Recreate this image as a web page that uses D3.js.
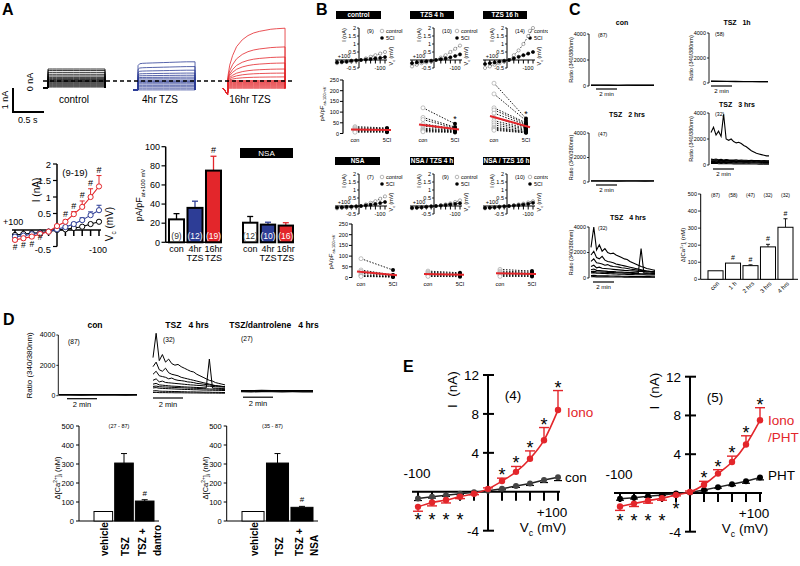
<!DOCTYPE html>
<html>
<head>
<meta charset="utf-8">
<script src="https://cdn.jsdelivr.net/npm/d3@7"></script>
<style>
body { margin: 0; background: #fff; }
svg { font-family: Arial, "Liberation Sans", sans-serif; }
text { white-space: pre; }
</style>
</head>
<body>
<div id="chart"></div>
<script>
// ---------------- data ----------------
// A: sweep amplitudes at end of the step (nA)
const sweepCtrl = [-0.25,-0.21,-0.17,-0.13,-0.09,-0.05,-0.02,0.02,0.06,0.1,0.15,0.21,0.28,0.36,0.44,0.5];
const sweep4h = [-0.37,-0.3,-0.24,-0.18,-0.12,-0.07,-0.02,0.03,0.09,0.16,0.24,0.33,0.45,0.6,0.8];
const sweep16h = [-0.3,-0.26,-0.22,-0.18,-0.14,-0.1,-0.06,-0.02,0.02,0.17,0.33,0.5,0.75,1.0,1.42,2.2];
// time course during the step (fraction of step, fraction of final amplitude)
const stepFrac = [0,0.03,0.08,0.15,0.25,0.35,0.45,0.55,0.65,0.75,0.85,1];
const riseCtrl = [1,1,1,1,1,1,1,1,1,1,1,1];
const rise4h = [0.8,0.9,0.92,0.93,0.94,0.95,0.96,0.97,0.98,0.99,1,1];
const rise16h = [0.1,0.3,0.48,0.65,0.78,0.86,0.91,0.94,0.96,0.98,0.99,1];

// A: I-V (nA) at Vc from +100 to -100 mV
const ivV = [100,80,60,40,20,0,-20,-40,-60,-80,-100];
const ivACtrl = [-0.15,-0.12,-0.1,-0.08,-0.05,0,0.02,0.06,0.1,0.18,0.25];
const ivACtrlErr = [0.03,0.03,0.02,0.02,0.01,0,0.01,0.02,0.02,0.03,0.04];
const ivA4h = [-0.2,-0.17,-0.13,-0.1,-0.05,0.02,0.09,0.18,0.3,0.45,0.6];
const ivA4hErr = [0.04,0.03,0.03,0.02,0.02,0,0.03,0.05,0.07,0.1,0.15];
const ivA16h = [-0.3,-0.25,-0.2,-0.12,-0.05,0.12,0.25,0.48,0.7,1.0,1.32];
const ivA16hErr = [0.05,0.05,0.04,0.03,0.02,0.02,0.05,0.08,0.18,0.25,0.33];
const ivASigUp = [-20,-40,-60,-80,-100];
const ivASigDown = [100,80,60,40];

// A: current density at +100 mV
const densLab1 = ["con","4hr","16hr"];
const densLab2 = ["","TZS","TZS"];
const densTZS = [24,36,75], densTZSErr = [6,7,15], densTZSN = [9,12,19];
const densNSA = [20.5,18.5,17.5], densNSAErr = [6.5,2.5,3], densNSAN = [12,10,16];

// B: mini I-V, control (open) and 5CI (filled)
const bTitles1 = ["control","TZS 4 h","TZS 16 h"];
const bTitles2 = ["NSA","NSA / TZS 4 h","NSA / TZS 16 h"];
const bN1 = [9,10,14], bN2 = [7,9,10];
const bCtrlOpen = [-0.2,-0.15,-0.12,-0.1,-0.05,0,0.1,0.2,0.3,0.4,0.5];
const bCtrlFill = [-0.15,-0.12,-0.1,-0.05,-0.02,0,0.03,0.06,0.1,0.13,0.18];
const b4hOpen = [-0.4,-0.3,-0.2,-0.15,-0.1,0,0.15,0.3,0.5,0.7,0.9];
const b4hFill = [-0.2,-0.15,-0.1,-0.08,-0.05,0,0.05,0.1,0.17,0.25,0.35];
const b16hOpen = [-0.5,-0.4,-0.3,-0.2,-0.1,0,0.3,0.6,1.0,1.5,2.0];
const b16hFill = [-0.25,-0.2,-0.15,-0.1,-0.05,0,0.1,0.2,0.3,0.4,0.5];
const bNSAOpen = [-0.15,-0.12,-0.1,-0.08,-0.04,0,0.1,0.2,0.3,0.45,0.6];
const bNSAFill = [-0.1,-0.08,-0.06,-0.04,-0.02,0,0.04,0.08,0.12,0.18,0.25];
const bN4hOpen = [-0.15,-0.12,-0.1,-0.06,-0.03,0,0.05,0.1,0.17,0.25,0.35];
const bN4hFill = [-0.12,-0.1,-0.08,-0.05,-0.02,0,0.03,0.06,0.1,0.13,0.17];
const bN16hOpen = [-0.15,-0.12,-0.1,-0.06,-0.03,0,0.05,0.1,0.15,0.22,0.3];
const bN16hFill = [-0.12,-0.1,-0.08,-0.05,-0.02,0,0.03,0.06,0.09,0.13,0.2];

// B: paired pA/pF, con -> 5CI, per cell
const pCtrlCon = [32,27,22,18,14,10,6], pCtrlSci = [26,22,20,16,13,9,6];
const p4hCon = [120,75,65,45,35,25,20,15,12,8], p4hSci = [45,30,25,22,18,15,12,10,8,5];
const p16hCon = [235,185,120,110,95,75,60,50,40,30,25,20,15], p16hSci = [70,60,50,45,40,30,25,20,15,10,8,5,3];
const pNSACon = [88,35,28,20,12,8,5], pNSASci = [35,12,10,8,5,3,2];
const pN4hCon = [30,25,20,16,12,8,5], pN4hSci = [22,18,14,12,10,7,4];
const pN16hCon = [38,30,25,20,15,10,5], pN16hSci = [30,25,20,15,12,8,5];

// C / D: fura-2 ratio traces (340/380), evenly sampled
const trCon = [[62,60,61,59,60,61,60,60],[55,56,54,55,56,55,54,55]];
const tr1h = [[150,140,135,128,122,118,112,110],[130,125,120,118,115,110,108,105]];
const tr2h = [[92,90,88,91,89,90,88,90],[80,82,80,79,81,80,79,80]];
const tr3h = [
  [2500,2900,2300,2600,2200,3900,2000,1900,2000,1800,1700,1750,1650,1500,1400,1250,1100,1000,900,850,800,750,700,700],
  [450,420,460,400,430,380,420,400,390,380,400,370,380,360,370,350,360,340,350,340,330,340,330,320],
  [380,360,390,350,370,340,360,350,340,350,330,340,330,320,330,320,310,320,310,300,310,300,300,290],
  [320,300,330,290,310,280,300,290,280,290,270,280,270,260,270,260,250,260,250,240,250,240,240,230],
  [260,280,250,270,240,260,250,240,250,230,240,230,230,220,230,220,210,220,210,210,200,210,200,200],
  [200,220,190,210,180,200,190,180,190,170,180,170,170,160,170,160,150,160,150,150,140,150,140,140],
  [120,110,130,100,120,100,110,100,100,90,100,90,90,90,80,90,80,80,80,70,80,70,70,70]];
const tr4h = [
  [2400,4000,2200,2600,2100,2300,2000,1900,1950,1800,1700,1600,1500,1450,1300,1200,1100,1000,900,850,750,700,650,600],
  [1800,2100,1600,1500,1700,1400,1300,1250,1200,1100,1050,1000,950,900,850,800,750,700,650,600,550,520,500,480],
  [1300,1500,1200,1150,1100,1000,1050,950,900,880,850,800,780,750,700,680,650,620,600,570,550,530,500,480],
  [900,1000,800,850,760,740,720,700,680,660,640,620,600,590,570,560,540,520,510,500,480,470,460,450],
  [650,700,600,580,560,540,520,510,500,480,470,460,450,440,430,420,410,400,2300,390,380,370,360,350],
  [500,520,480,470,460,450,440,430,420,410,400,390,380,380,370,360,350,340,330,320,320,310,300,300],
  [400,420,380,370,360,350,340,330,320,310,300,300,290,280,280,270,260,260,250,250,240,240,230,230],
  [200,220,190,180,180,170,170,160,160,150,150,140,140,140,130,130,120,120,120,110,110,110,100,100],
  [100,110,90,90,90,85,85,80,80,80,75,75,70,70,70,65,65,60,60,60,60,55,55,55]];
const trDan = [[340,330,345,335,330,340,335,330],[300,295,305,300,295,300,298,295],[260,255,265,260,255,262,258,255]];

// C: Δ[Ca2+]i summary (nM)
const cGroups = ["con","1 h","2 hrs","3 hrs","4 hrs"];
const cVals = [50,95,80,190,305], cErr = [0,0,5,15,50], cN = [87,58,47,32,32];
const cSig = [false,true,true,true,true];

// D: Δ[Ca2+]i summary (nM)
const dGroupsL = ["vehicle","TSZ","TSZ + dantro"], dValsL = [50,305,105], dErrL = [0,50,7];
const dGroupsR = ["vehicle","TSZ","TSZ + NSA"], dValsR = [50,305,72], dErrR = [0,50,5];
const dFill = ["#fff","#000","#000"];

// E: I-V (nA) from -100 to +100 mV
const eV = [-100,-80,-60,-40,-20,0,20,40,60,80,100];
const eCon = [-0.7,-0.5,-0.35,-0.2,-0.05,0.1,0.3,0.6,0.85,1.2,1.5];
const eConErr = [0.2,0.15,0.12,0.1,0.05,0.05,0.1,0.15,0.2,0.25,0.35];
const eIono = [-1.55,-1.1,-0.85,-0.5,-0.2,0.3,1.1,2.05,3.4,5.3,8.4];
const eIonoErr = [0.45,0.35,0.3,0.2,0.1,0.1,0.3,0.55,0.8,1.3,2.0];
const ePHT = [-0.6,-0.5,-0.35,-0.2,-0.05,0.05,0.3,0.6,0.9,1.2,1.6];
const ePHTErr = [0.15,0.12,0.1,0.08,0.05,0.05,0.08,0.1,0.15,0.2,0.25];
const eIonoPHT = [-1.4,-1.1,-0.8,-0.55,-0.2,0.1,0.85,2.0,3.2,5.0,7.5];
const eIonoPHTErr = [0.4,0.3,0.25,0.2,0.1,0.1,0.35,0.4,0.6,0.9,1.3];

// ---------------- helpers ----------------
const red = "#e3262b", blue = "#2d3d96";
const svg = d3.select("#chart").append("svg").attr("width", 800).attr("height", 566);
svg.append("rect").attr("width", 800).attr("height", 566).attr("fill", "#fff");

function txt(g, x, y, s, size, o) {
  o = o || {};
  const t = g.append("text").attr("x", x).attr("y", y).attr("font-size", size)
    .attr("text-anchor", o.anchor || "start").attr("fill", o.fill || "#000").text(s);
  if (o.bold) t.attr("font-weight", "bold");
  if (o.rot) t.attr("transform", `rotate(${o.rot},${x},${y})`);
  return t;
}
function rich(g, x, y, size, parts, o) {
  const t = txt(g, x, y, "", size, o);
  let shift = 0;
  parts.forEach(([s, k]) => {
    const want = k === "sub" ? size * 0.3 : k === "sup" ? -size * 0.4 : 0;
    t.append("tspan").attr("dy", want - shift).attr("font-size", k ? size * 0.65 : size).text(s);
    shift = want;
  });
  return t;
}
function ln(g, x1, y1, x2, y2, w, col, dash) {
  const l = g.append("line").attr("x1", x1).attr("y1", y1).attr("x2", x2).attr("y2", y2)
    .attr("stroke", col || "#000").attr("stroke-width", w || 1);
  if (dash) l.attr("stroke-dasharray", dash);
  return l;
}
function vcLabel(g, x, y, size) {
  return rich(g, x, y, size, [["V",""],["c","sub"],[" (mV)",""]], {anchor: "middle", rot: -90});
}
function caLabel(g, x, y, size) {
  return rich(g, x, y, size, [["Δ[Ca",""],["2+","sup"],["]",""],["i","sub"],[" (nM)",""]], {anchor: "middle", rot: -90});
}
function dens(g, x, y, size) {
  return rich(g, x, y, size, [["pA/pF",""],["at+100 mV","sub"]], {anchor: "middle", rot: -90});
}

// ================= A : traces =================
const gA = svg.append("g");
txt(gA, 2, 15, "A", 16, {bold: true});
const trY = d3.scaleLinear().domain([0, 1]).range([81, 57]);
const trT = d3.scaleLinear().domain([0, 0.5]).range([0, 31]);
const stepDur = 0.92;
const blocks = [
  {x0: 48, sweeps: sweepCtrl, rise: riseCtrl, col: "#000", hold: -0.28, spike: false},
  {x0: 138, sweeps: sweep4h, rise: rise4h, col: blue, hold: -0.37, spike: false},
  {x0: 228, sweeps: sweep16h, rise: rise16h, col: red, hold: -0.3, spike: true}];
const lineA = d3.line();
blocks.forEach(b => {
  b.sweeps.forEach(lvl => {
    const pts = [[b.x0 - 5, trY(b.hold)]];
    if (b.spike) pts.push([b.x0 - 0.5, trY(-0.55)]);
    pts.push([b.x0, trY(b.hold)]);
    stepFrac.forEach((f, i) => pts.push([b.x0 + trT(f * stepDur), trY(lvl > 0.1 ? lvl * b.rise[i] : lvl)]));
    pts.push([b.x0 + trT(stepDur), trY(b.hold)]);
    gA.append("path").attr("d", lineA(pts)).attr("fill", "none").attr("stroke", b.col).attr("stroke-width", 0.8);
  });
});
ln(gA, 43, trY(0), 293, trY(0), 1.6, "#000", "4,3");
txt(gA, 33, 82, "0 nA", 9, {anchor: "middle", rot: -90});
ln(gA, 13, 88, 13, 112, 2);
ln(gA, 12, 112, 44, 112, 2);
txt(gA, 8, 100, "1 nA", 9, {anchor: "middle", rot: -90});
txt(gA, 18, 123, "0.5 s", 9);
txt(gA, 74, 103, "control", 10, {anchor: "middle"});
txt(gA, 160, 103, "4hr TZS", 10, {anchor: "middle"});
txt(gA, 250, 103, "16hr TZS", 10, {anchor: "middle"});

// ================= A : I-V =================
const aX = d3.scaleLinear().domain([100, -100]).range([15, 99]);
const aY = d3.scaleLinear().domain([-0.5, 2]).range([246.5, 164]);
ln(gA, aX(0), aY(2), aX(0), aY(-0.5), 1.5);
[2, 1.5, 1, 0.5, -0.5].forEach(v => {
  ln(gA, aX(0) - 4, aY(v), aX(0), aY(v), 1.2);
  txt(gA, aX(0) - 6, aY(v) + (v < 0 ? 6.5 : 3.5), String(v), 9.5, {anchor: "end"});
});
ln(gA, 12, aY(0), 101, aY(0), 1.5);
ivV.forEach(v => { if (v !== 0) ln(gA, aX(v), aY(0), aX(v), aY(0) + 6, 1.5); });
txt(gA, 3, 225, "+100", 9);
txt(gA, 98, 253, "-100", 9, {anchor: "middle"});
vcLabel(gA, 113, 224, 10);
txt(gA, 40, 190, "I (nA)", 10, {anchor: "middle", rot: -90});
txt(gA, 75, 176, "(9-19)", 9.5, {anchor: "middle"});
[[ivACtrl, ivACtrlErr, "#000"], [ivA4h, ivA4hErr, blue], [ivA16h, ivA16hErr, red]].forEach(([ser, err, col]) => {
  ivV.forEach((v, i) => {
    const up = ser[i] >= 0 ? 1 : -1;
    const ye = aY(ser[i] + up * err[i]);
    ln(gA, aX(v), aY(ser[i]), aX(v), ye, 1, col);
    ln(gA, aX(v) - 2.5, ye, aX(v) + 2.5, ye, 1, col);
  });
  gA.append("path").attr("d", d3.line().x((d, i) => aX(ivV[i])).y(d => aY(d))(ser))
    .attr("fill", "none").attr("stroke", col).attr("stroke-width", 1.1);
  gA.selectAll(null).data(ser).enter().append("circle")
    .attr("cx", (d, i) => aX(ivV[i])).attr("cy", d => aY(d)).attr("r", 2.6)
    .attr("fill", "#fff").attr("stroke", col).attr("stroke-width", 1);
});
ivASigUp.forEach(v => {
  const i = ivV.indexOf(v);
  txt(gA, aX(v), aY(ivA16h[i] + ivA16hErr[i]) - 3, "#", 9, {anchor: "middle"});
});
ivASigDown.forEach(v => {
  const i = ivV.indexOf(v);
  txt(gA, aX(v), aY(ivA16h[i]) + (v === 40 ? 6.5 : 10), "#", 8.5, {anchor: "middle"});
});

// ================= A : density bars =================
const dY = d3.scaleLinear().domain([0, 100]).range([242.3, 146.7]);
ln(gA, 165.7, dY(100), 165.7, dY(0), 1.5);
ln(gA, 165.7, dY(0), 222, dY(0), 1.5);
d3.range(0, 101, 20).forEach(v => {
  ln(gA, 161.5, dY(v), 165.7, dY(v), 1.2);
  txt(gA, 160, dY(v) + 3.2, String(v), 9, {anchor: "end"});
});
dens(gA, 142, 195, 9);
function densBars(vals, errs, ns, range) {
  const xb = d3.scaleBand().domain(densLab1).range(range).paddingInner(0.08);
  const fills = ["#fff", blue, red];
  densLab1.forEach((k, i) => {
    const x = xb(k), w = xb.bandwidth(), cx = x + w / 2;
    const col = i === 0 ? "#000" : fills[i];
    const ye = dY(vals[i] + errs[i]);
    ln(gA, cx, dY(vals[i]), cx, ye, 1.3, col);
    ln(gA, cx - 3, ye, cx + 3, ye, 1.3, col);
    gA.append("rect").attr("x", x + 1).attr("y", dY(vals[i])).attr("width", w - 2)
      .attr("height", dY(0) - dY(vals[i])).attr("fill", fills[i]).attr("stroke", "#000").attr("stroke-width", 2);
    txt(gA, cx, 239, `(${ns[i]})`, 8.5, {anchor: "middle", fill: i === 0 ? "#333" : "#fff"});
    txt(gA, cx, 252, densLab1[i], 9, {anchor: "middle"});
    if (densLab2[i]) txt(gA, cx, 261, densLab2[i], 9, {anchor: "middle"});
  });
  return xb;
}
const xbT = densBars(densTZS, densTZSErr, densTZSN, [168, 222]);
densBars(densNSA, densNSAErr, densNSAN, [242, 294]);
txt(gA, xbT("16hr") + xbT.bandwidth() / 2, dY(densTZS[2] + densTZSErr[2]) - 3, "#", 9, {anchor: "middle"});
gA.append("rect").attr("x", 240).attr("y", 148).attr("width", 53).attr("height", 10).attr("fill", "#000");
txt(gA, 266.5, 156, "NSA", 8, {anchor: "middle", fill: "#fff"});

// ================= B =================
svg.append("clipPath").attr("id", "clipB").append("rect").attr("x", 300).attr("y", 0).attr("width", 248).attr("height", 300);
const gB = svg.append("g").attr("clip-path", "url(#clipB)");
txt(svg, 316, 15, "B", 16, {bold: true});

function header(x1, x2, y, s) {
  gB.append("rect").attr("x", x1).attr("y", y).attr("width", x2 - x1).attr("height", 8).attr("fill", "#000");
  txt(gB, (x1 + x2) / 2, y + 6.3, s, 6.5, {anchor: "middle", fill: "#fff", bold: true});
}
function miniIV(axX, top, openV, fillV, n) {
  const yS = d3.scaleLinear().domain([-0.5, 2]).range([top + 40, top]);
  const xS = d3.scaleLinear().domain([100, -100]).range([axX - 22, axX + 26]);
  const y0 = yS(0);
  ln(gB, axX, yS(2), axX, yS(-0.5), 1);
  [2, 1.5, 1, 0.5, -0.5].forEach(v => {
    ln(gB, axX - 2, yS(v), axX, yS(v), 0.8);
    txt(gB, axX - 3, yS(v) + 2, String(v), 5.5, {anchor: "end"});
  });
  txt(gB, axX - 13, top + 7, "I (nA)", 5.5, {anchor: "middle", rot: -90});
  ln(gB, axX - 24, y0, axX + 28, y0, 1);
  ivV.forEach(v => { if (v !== 0) ln(gB, xS(v), y0, xS(v), y0 + 3.5, 1); });
  txt(gB, axX - 15, y0 - 2, "+100", 5.5, {anchor: "middle"});
  txt(gB, axX + 21, y0 + 10, "-100", 5.5, {anchor: "middle"});
  vcLabel(gB, axX + 34, y0 - 4, 5.5);
  txt(gB, axX + 8, top + 5, `(${n})`, 5.5);
  gB.append("circle").attr("cx", axX + 23).attr("cy", top + 3).attr("r", 1.8).attr("fill", "#fff").attr("stroke", "#888").attr("stroke-width", 0.6);
  txt(gB, axX + 27, top + 5, "control", 5.5);
  gB.append("circle").attr("cx", axX + 23).attr("cy", top + 10).attr("r", 1.8).attr("fill", "#000");
  txt(gB, axX + 27, top + 12, "5CI", 5.5);
  [[openV, "#fff", "#777"], [fillV, "#000", "#000"]].forEach(([ser, fill, st]) => {
    gB.append("path").attr("d", d3.line().x((d, i) => xS(ivV[i])).y(d => yS(d))(ser))
      .attr("fill", "none").attr("stroke", "#000").attr("stroke-width", 0.8).attr("stroke-dasharray", "1.5,1.5");
    gB.selectAll(null).data(ser).enter().append("circle")
      .attr("cx", (d, i) => xS(ivV[i])).attr("cy", d => yS(d)).attr("r", 1.6)
      .attr("fill", fill).attr("stroke", st).attr("stroke-width", 0.6);
  });
}
function pairPlot(axisX, top, conX, conV, sciV, star) {
  const yS = d3.scaleLinear().domain([0, 250]).range([top + 53.5, top]);
  if (axisX) {
    ln(gB, axisX, yS(250), axisX, yS(0), 1.2);
    d3.range(0, 251, 50).forEach(v => {
      ln(gB, axisX - 3, yS(v), axisX, yS(v), 1);
      txt(gB, axisX - 4, yS(v) + 2, String(v), 5.5, {anchor: "end"});
    });
  }
  const sx = conX + 32;
  conV.forEach((c, i) => ln(gB, conX, yS(c), sx, yS(sciV[i]), 0.9, "#000", "1.5,1.5"));
  gB.selectAll(null).data(conV).enter().append("circle")
    .attr("cx", conX).attr("cy", d => yS(d)).attr("r", 2).attr("fill", "#fff").attr("stroke", "#999").attr("stroke-width", 0.6);
  gB.selectAll(null).data(sciV).enter().append("circle")
    .attr("cx", sx).attr("cy", d => yS(d)).attr("r", 2).attr("fill", "#000");
  ln(gB, conX - 4, yS(d3.mean(conV)), sx + 4, yS(d3.mean(sciV)), 2, red);
  txt(gB, conX, top + 62, "con", 5.5, {anchor: "middle"});
  txt(gB, sx, top + 62, "5CI", 5.5, {anchor: "middle"});
  if (star) txt(gB, sx, yS(d3.max(sciV)) - 2, "*", 9, {anchor: "middle"});
}
const boxes1 = [[336, 381], [410, 454], [483, 527]], boxes2 = [[335, 380], [410, 454], [483, 530]];
const ivAxes = [359, 434, 507];
bTitles1.forEach((t, i) => header(boxes1[i][0], boxes1[i][1], 11, t));
bTitles2.forEach((t, i) => header(boxes2[i][0], boxes2[i][1], 157, t));
miniIV(ivAxes[0], 28, bCtrlOpen, bCtrlFill, bN1[0]);
miniIV(ivAxes[1], 28, b4hOpen, b4hFill, bN1[1]);
miniIV(ivAxes[2], 28, b16hOpen, b16hFill, bN1[2]);
miniIV(ivAxes[0], 174, bNSAOpen, bNSAFill, bN2[0]);
miniIV(ivAxes[1], 174, bN4hOpen, bN4hFill, bN2[1]);
miniIV(ivAxes[2], 174, bN16hOpen, bN16hFill, bN2[2]);
pairPlot(343, 80, 355, pCtrlCon, pCtrlSci, false);
pairPlot(null, 80, 423, p4hCon, p4hSci, true);
pairPlot(null, 80, 494, p16hCon, p16hSci, true);
pairPlot(352, 224, 361, pNSACon, pNSASci, false);
pairPlot(null, 224, 428, pN4hCon, pN4hSci, false);
pairPlot(null, 224, 500, pN16hCon, pN16hSci, false);
dens(gB, 324, 104, 6);
dens(gB, 333, 252, 6);

// ================= C / D traces =================
function tracePlot(g, o) {
  const yS = d3.scaleLinear().domain([0, 4000]).range([o.y0, o.yTop]);
  if (o.axis) {
    ln(g, o.axX, o.yTop, o.axX, o.y0, 0.9);
    [0, 2000, 4000].forEach(v => {
      ln(g, o.axX - 2, yS(v), o.axX, yS(v), 0.8);
      txt(g, o.axX - 3, yS(v) + o.fs * 0.35, String(v), o.fs, {anchor: "end"});
    });
    txt(g, o.axX - o.labOff, (o.y0 + o.yTop) / 2, "Ratio (340/380nm)", o.lfs, {anchor: "middle", rot: -90});
  }
  txt(g, o.tx, o.ty, o.title, o.tfs, {anchor: "middle", bold: true});
  txt(g, o.nx, o.ny, `(${o.n})`, o.fs * 0.95);
  o.traces.forEach(arr => {
    const xS = d3.scaleLinear().domain([0, arr.length - 1]).range([o.x1, o.x2]);
    g.append("path").attr("d", d3.line().x((d, i) => xS(i)).y(d => yS(d))(arr))
      .attr("fill", "none").attr("stroke", "#000").attr("stroke-width", o.sw);
  });
  ln(g, o.bx, o.y0 + o.bdy, o.bx + o.blen, o.y0 + o.bdy, 1.2);
  txt(g, o.bx + o.blen / 2, o.y0 + o.bdy + o.bfs + 1, "2 min", o.bfs, {anchor: "middle"});
}
const gC = svg.append("g");
txt(gC, 569, 15, "C", 16, {bold: true});
const cBase = {axis: true, fs: 5.5, lfs: 5.5, labOff: 16, tfs: 7, bfs: 6, blen: 21, bdy: 3, sw: 1.1};
tracePlot(gC, Object.assign({}, cBase, {axX: 589, y0: 86, yTop: 34, x1: 591, x2: 654, title: "con", tx: 622, ty: 25, n: 87, nx: 598, ny: 37, traces: trCon, bx: 596, sw: 1.2}));
tracePlot(gC, Object.assign({}, cBase, {axX: 709, y0: 83, yTop: 33, x1: 711, x2: 768, title: "TSZ   1h", tx: 737, ty: 25, n: 58, nx: 715, ny: 36, traces: tr1h, bx: 711, sw: 1.2}));
tracePlot(gC, Object.assign({}, cBase, {axX: 589, y0: 182, yTop: 133, x1: 591, x2: 654, title: "TSZ   2 hrs", tx: 627, ty: 117, n: 47, nx: 598, ny: 136, traces: tr2h, bx: 596, sw: 1.2}));
tracePlot(gC, Object.assign({}, cBase, {axX: 709, y0: 165, yTop: 113, x1: 711, x2: 769, title: "TSZ   3 hrs", tx: 737, ty: 107, n: 32, nx: 715, ny: 116, traces: tr3h, bx: 713, bdy: 4}));
tracePlot(gC, Object.assign({}, cBase, {axX: 589, y0: 278, yTop: 227, x1: 591, x2: 655, title: "TSZ   4 hrs", tx: 628, ty: 220, n: 32, nx: 598, ny: 230, traces: tr4h, bx: 593, bdy: 4}));

// C summary bars
const cY = d3.scaleLinear().domain([0, 500]).range([279.3, 194]);
const cX = d3.scaleBand().domain(cGroups).range([708, 793]).paddingInner(0.14);
ln(gC, 700.7, cY(500), 700.7, cY(0), 1);
ln(gC, 700.7, cY(0), 798, cY(0), 1);
d3.range(0, 501, 100).forEach(v => {
  ln(gC, 698, cY(v), 700.7, cY(v), 0.8);
  txt(gC, 697, cY(v) + 2, String(v), 5.5, {anchor: "end"});
});
caLabel(gC, 685, 245, 6);
cGroups.forEach((k, i) => {
  const x = cX(k), w = cX.bandwidth(), cx = x + w / 2;
  if (cErr[i]) {
    ln(gC, cx, cY(cVals[i]), cx, cY(cVals[i] + cErr[i]), 0.9);
    ln(gC, cx - 2, cY(cVals[i] + cErr[i]), cx + 2, cY(cVals[i] + cErr[i]), 0.9);
  }
  gC.append("rect").attr("x", x).attr("y", cY(cVals[i])).attr("width", w).attr("height", cY(0) - cY(cVals[i]))
    .attr("fill", "#fff").attr("stroke", "#000").attr("stroke-width", 1);
  if (cSig[i]) txt(gC, cx, cY(cVals[i] + cErr[i]) - 3, "#", 7, {anchor: "middle"});
  txt(gC, cx, 197, `(${cN[i]})`, 5, {anchor: "middle"});
  txt(gC, cx + 4, 284, k, 6, {anchor: "end", rot: -45});
});

// ================= D =================
const gD = svg.append("g");
txt(gD, 3, 325, "D", 16, {bold: true});
const dBase = {fs: 7, lfs: 8, labOff: 26, tfs: 8.5, bfs: 7.5, blen: 30, sw: 1};
tracePlot(gD, Object.assign({}, dBase, {axis: true, axX: 58.3, y0: 395.7, yTop: 335, x1: 59, x2: 137, title: "con", tx: 95, ty: 328, n: 87, nx: 68, ny: 344, traces: trCon, bx: 67, bdy: 3, sw: 1.5}));
tracePlot(gD, Object.assign({}, dBase, {axis: false, axX: 152, y0: 394, yTop: 333.3, x1: 153, x2: 225, title: "TSZ   4 hrs", tx: 187, ty: 328, n: 32, nx: 163, ny: 342, traces: tr4h, bx: 153, bdy: 4}));
tracePlot(gD, Object.assign({}, dBase, {axis: false, axX: 240, y0: 395.7, yTop: 335, x1: 241, x2: 313, title: "TSZ/dantrolene   4 hrs", tx: 274, ty: 328, n: 27, nx: 241, ny: 341, traces: trDan, bx: 243, bdy: 1.5, sw: 1.2}));

function dBars(axX, range, groups, vals, errs, nText) {
  const yS = d3.scaleLinear().domain([0, 500]).range([521, 426]);
  const xb = d3.scaleBand().domain(groups).range(range).paddingInner(0.1);
  ln(gD, axX, yS(500), axX, yS(0), 1);
  ln(gD, axX, yS(0), range[1] + 5, yS(0), 1);
  d3.range(0, 501, 100).forEach(v => {
    ln(gD, axX - 3, yS(v), axX, yS(v), 1);
    txt(gD, axX - 5, yS(v) + 2.8, String(v), 7.5, {anchor: "end"});
  });
  caLabel(gD, axX - 19, 478, 7.5);
  txt(gD, (range[0] + range[1]) / 2 - 5, 428, nText, 5.5, {anchor: "middle"});
  groups.forEach((k, i) => {
    const x = xb(k), w = xb.bandwidth(), cx = x + w / 2;
    if (errs[i]) {
      ln(gD, cx, yS(vals[i]), cx, yS(vals[i] + errs[i]), 1);
      ln(gD, cx - 3, yS(vals[i] + errs[i]), cx + 3, yS(vals[i] + errs[i]), 1);
    }
    gD.append("rect").attr("x", x).attr("y", yS(vals[i])).attr("width", w).attr("height", yS(0) - yS(vals[i]))
      .attr("fill", dFill[i]).attr("stroke", "#000").attr("stroke-width", 1);
    const parts = k.split(" + ");
    if (parts.length === 1) {
      txt(gD, cx + 5, 556, k, 10, {bold: true, rot: -90});
    } else {
      txt(gD, cx + 1, 556, parts[0] + " +", 10, {bold: true, rot: -90});
      txt(gD, cx + 16, 556, parts[1], 10, {bold: true, rot: -90});
    }
  });
  const last = groups.length - 1, xl = xb(groups[last]) + xb.bandwidth() / 2;
  txt(gD, xl, yS(vals[last] + errs[last]) - 4, "#", 8, {anchor: "middle"});
}
dBars(79, [94, 154], dGroupsL, dValsL, dErrL, "(27 - 87)");
dBars(226.7, [242, 313], dGroupsR, dValsR, dErrR, "(35 - 87)");

// ================= E =================
const gE = svg.append("g");
txt(gE, 403, 372, "E", 16, {bold: true});
function ePlot(axX, yBot, yTopPx, redV, redE, blkV, blkE, o) {
  const xS = d3.scaleLinear().domain([-100, 100]).range([axX - 70, axX + 70]);
  const yS = d3.scaleLinear().domain([-4, 12]).range([yBot, yTopPx]);
  const y0 = yS(0);
  ln(gE, axX, yS(12), axX, yS(-4), 2);
  [12, 8, 4, -4].forEach(v => {
    ln(gE, axX - 5, yS(v), axX + 6, yS(v), 2);
    txt(gE, axX - 9, yS(v) + 5, String(v), 13.5, {anchor: "end"});
  });
  ln(gE, xS(-100) - 6, y0, xS(100) + 2, y0, 2);
  eV.forEach(v => { if (v !== 0) ln(gE, xS(v), y0, xS(v), y0 + 9, 2); });
  txt(gE, xS(-100) - 1, y0 - 14, "-100", 13.5, {anchor: "middle"});
  txt(gE, xS(100) - 6, y0 + 25, "+100", 13.5, {anchor: "middle"});
  vcLabel(gE, 0, 0, 13.5).attr("transform", null).attr("x", axX + 55).attr("y", y0 + 40);
  txt(gE, axX - 31, yS(10.5), "I  (nA)", 13.5, {anchor: "middle", rot: -90});
  txt(gE, axX + 25, yS(9.4), o.n, 13.5, {anchor: "middle"});
  // black series
  blkV.forEach((d, i) => {
    const ye = yS(d - blkE[i]);
    ln(gE, xS(eV[i]), yS(d), xS(eV[i]), ye, 1.2);
    ln(gE, xS(eV[i]) - 4, ye, xS(eV[i]) + 4, ye, 1.2);
  });
  gE.append("path").attr("d", d3.line().x((d, i) => xS(eV[i])).y(d => yS(d))(blkV))
    .attr("fill", "none").attr("stroke", "#222").attr("stroke-width", 1.5);
  gE.selectAll(null).data(blkV).enter().append("circle")
    .attr("cx", (d, i) => xS(eV[i])).attr("cy", d => yS(d)).attr("r", 3).attr("fill", o.blkFill);
  // red series
  redV.forEach((d, i) => {
    const ye = yS(d + (d >= 0 ? redE[i] : -redE[i]));
    ln(gE, xS(eV[i]), yS(d), xS(eV[i]), ye, 1.4, red);
    ln(gE, xS(eV[i]) - 5, ye, xS(eV[i]) + 5, ye, 1.4, red);
  });
  gE.append("path").attr("d", d3.line().curve(d3.curveMonotoneX).x((d, i) => xS(eV[i])).y(d => yS(d))(redV))
    .attr("fill", "none").attr("stroke", red).attr("stroke-width", 1.6);
  gE.selectAll(null).data(redV).enter().append("circle")
    .attr("cx", (d, i) => xS(eV[i])).attr("cy", d => yS(d)).attr("r", 3.2).attr("fill", red);
  // significance
  o.starsUp.forEach(v => {
    const i = eV.indexOf(v);
    txt(gE, xS(v), yS(redV[i] + redE[i]) + 3, "*", 18, {anchor: "middle"});
  });
  o.starsDown.forEach(v => txt(gE, xS(v), y0 + 34 + (o.downShift[v] || 0), "*", 18, {anchor: "middle"}));
  o.labels.forEach(l => txt(gE, l[0], l[1], l[2], 13.5, {fill: l[3]}));
}
ePlot(488, 530.7, 375, eIono, eIonoErr, eCon, eConErr, {
  n: "(4)", blkFill: "#444", starsUp: [20, 40, 60, 80, 100], starsDown: [-100, -80, -60, -40], downShift: {},
  labels: [[567, 417, "Iono", red], [565, 482, "con", "#000"]]});
ePlot(690, 531.7, 376.7, eIonoPHT, eIonoPHTErr, ePHT, ePHTErr, {
  n: "(5)", blkFill: "#000", starsUp: [20, 40, 60, 80, 100], starsDown: [-100, -80, -60, -40, -20], downShift: {"-20": -12},
  labels: [[768, 425, "Iono", red], [768, 442, "/PHT", red], [768, 480, "PHT", "#000"]]});
</script>
</body>
</html>
